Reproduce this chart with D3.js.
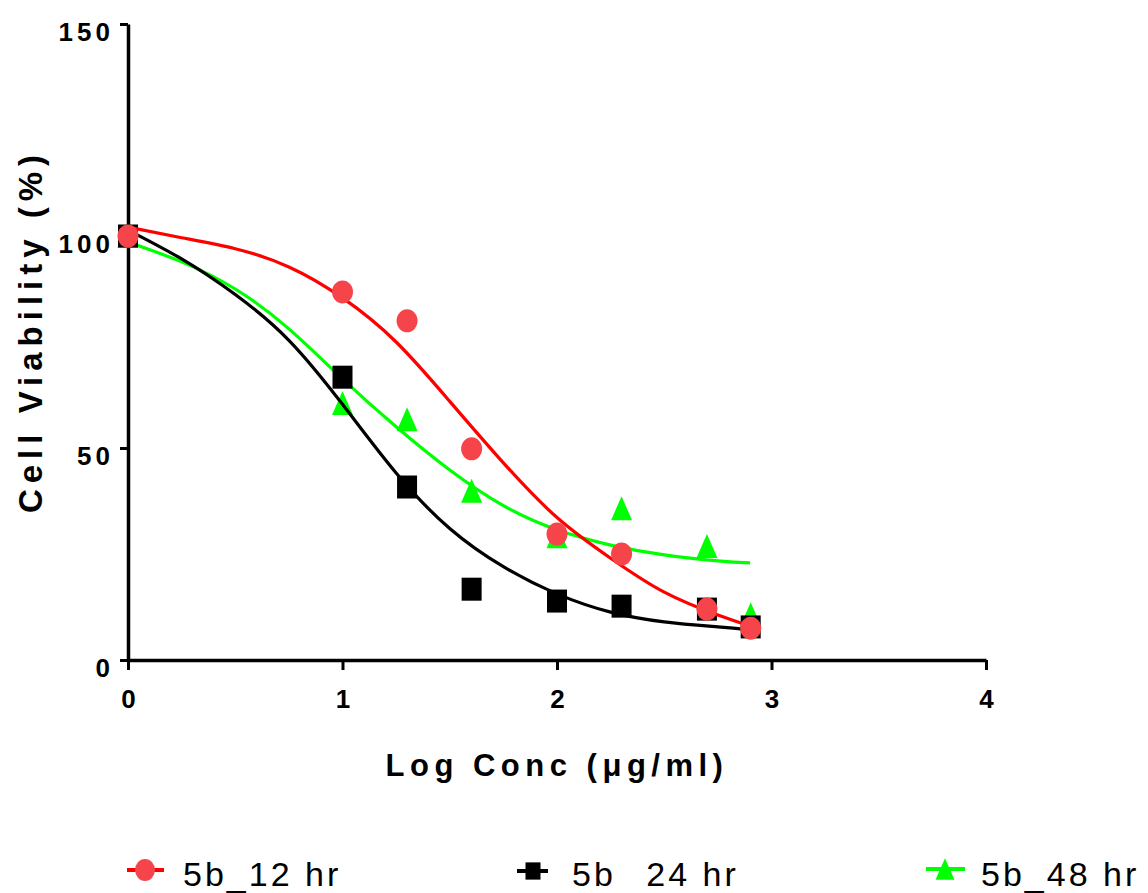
<!DOCTYPE html>
<html>
<head>
<meta charset="utf-8">
<script src="https://cdn.jsdelivr.net/npm/d3@7/dist/d3.min.js"></script>
<style>
  html, body { margin: 0; padding: 0; background: #fff; }
  svg { display: block; }
</style>
</head>
<body>
<svg id="chart" width="1148" height="893"></svg>
<script>
// ---- data ----
const logConc = [0, 1, 1.301, 1.602, 2, 2.301, 2.699, 2.903];
const via12 = [100, 86.8, 80, 49.8, 29.7, 25, 12, 7.5];
const via24 = [100, 66.7, 40.8, 16.7, 13.9, 12.7, 12, 7.8];
const via48 = [100, 60.6, 56.8, 39.9, 29.2, 35.8, 26.9, 10.8];

// fitted curves
const curveX = [0, 0.25, 0.5, 0.75, 1, 1.25, 1.5, 1.75, 2, 2.25, 2.5, 2.75, 2.9];
const fit12 = [102.1, 99.6, 97.0, 92.7, 85.4, 75.0, 61.0, 46.5, 33.6, 24.0, 16.0, 10.6, 8.0];
const fit24 = [101.4, 94.6, 86.2, 75.4, 60.3, 44.1, 31.0, 22.0, 15.6, 11.3, 9.0, 7.8, 7.1];
const fit48 = [98.6, 93.9, 87.5, 78.1, 66.3, 55.0, 44.8, 36.4, 30.7, 27.1, 24.8, 23.4, 22.9];

const xTicks = [0, 1, 2, 3, 4];
const yTicks = [0, 50, 100, 150];
const seriesNames = ["5b_12 hr", "5b 24 hr", "5b_48 hr"];
const xTitle = "Log Conc (\u03bcg/ml)";
const yTitle = "Cell Viability (%)";

// ---- drawing ----
const svg = d3.select("#chart");
const FONT = "'Liberation Sans', Arial, Helvetica, sans-serif";

const x = d3.scaleLinear().domain([0, 4]).range([128, 986]);
const y = d3.scaleLinear().domain([0, 150]).range([660, 24]);

// axes
const yAxis = svg.append("g").attr("transform", "translate(128,0)")
  .call(d3.axisLeft(y).tickValues(yTicks).tickFormat(d3.format("d"))
    .tickSize(8).tickSizeOuter(0).tickPadding(10));
const xAxis = svg.append("g").attr("transform", "translate(0,660)")
  .call(d3.axisBottom(x).tickValues(xTicks).tickFormat(d3.format("d"))
    .tickSize(10).tickSizeOuter(0).tickPadding(20));

[yAxis, xAxis].forEach(a => {
  a.select(".domain").attr("stroke", "#000").attr("stroke-width", 3.5);
  a.selectAll(".tick line").attr("stroke", "#000").attr("stroke-width", 3);
  a.selectAll(".tick text")
    .attr("fill", "#000")
    .style("font-family", FONT)
    .style("font-weight", "bold")
    .style("font-size", "26px")
    .style("letter-spacing", "4px");
});
yAxis.selectAll(".tick text").attr("dy", "0.62em").attr("x", -14);
xAxis.selectAll(".tick text").attr("dy", "0.71em").attr("dx", "2px");

// titles
svg.append("text")
  .attr("x", 557).attr("y", 776)
  .attr("text-anchor", "middle")
  .style("font-family", FONT).style("font-weight", "bold")
  .style("font-size", "31px").style("letter-spacing", "5.5px")
  .text(xTitle);

svg.append("text")
  .attr("transform", "translate(42,331) rotate(-90)")
  .attr("text-anchor", "middle")
  .style("font-family", FONT).style("font-weight", "bold")
  .style("font-size", "33px").style("letter-spacing", "6px")
  .text(yTitle);

// series
const series = [
  { name: seriesNames[2], vals: via48, fit: fit48, line: "#00ff00", fill: "#00ff00", shape: "tri" },
  { name: seriesNames[1], vals: via24, fit: fit24, line: "#000000", fill: "#000000", shape: "sq" },
  { name: seriesNames[0], vals: via12, fit: fit12, line: "#ff0000", fill: "#f5454a", shape: "circ" }
];

const lineGen = d3.line()
  .x(d => x(d[0])).y(d => y(d[1]))
  .curve(d3.curveNatural);

function drawMarker(g, shape, cx, cy, fill, scale) {
  const s = scale || 1;
  if (shape === "circ") {
    g.append("ellipse").attr("cx", cx).attr("cy", cy)
      .attr("rx", 10.5 * s).attr("ry", 11.5 * s).attr("fill", fill);
  } else if (shape === "sq") {
    g.append("rect").attr("x", cx - 10 * s).attr("y", cy - 11.5 * s)
      .attr("width", 20 * s).attr("height", 23 * s).attr("fill", fill);
  } else {
    const w = 10.5 * s, h = 12 * s;
    g.append("path")
      .attr("d", `M${cx},${cy - h}L${cx + w},${cy + h}L${cx - w},${cy + h}Z`)
      .attr("fill", fill);
  }
}

series.forEach(s => {
  const g = svg.append("g");
  g.append("path")
    .datum(curveX.map((cx, i) => [cx, s.fit[i]]))
    .attr("d", lineGen)
    .attr("fill", "none")
    .attr("stroke", s.line)
    .attr("stroke-width", 3.2);
  logConc.forEach((lx, i) => drawMarker(g, s.shape, x(lx), y(s.vals[i]), s.fill));
});

// legend
const legendItems = [
  { name: seriesNames[0], line: "#ff0000", fill: "#f5454a", shape: "circ", x0: 127, x1: 164, mx: 145, my: 870, tx: 183, ty: 886, ms: 0.95, gap: 0 },
  { name: seriesNames[1], line: "#000000", fill: "#000000", shape: "sq", x0: 517, x1: 548, mx: 533, my: 871, tx: 572, ty: 886, ms: 0.75, gap: 18 },
  { name: seriesNames[2], line: "#00ff00", fill: "#00ff00", shape: "tri", x0: 926, x1: 965, mx: 945, my: 869, tx: 981, ty: 886, ms: 0.9, gap: 0 }
];
legendItems.forEach(it => {
  const g = svg.append("g");
  g.append("line").attr("x1", it.x0).attr("x2", it.x1)
    .attr("y1", it.my).attr("y2", it.my)
    .attr("stroke", it.line).attr("stroke-width", 4);
  drawMarker(g, it.shape, it.mx, it.my, it.fill, it.ms);
  const t = g.append("text").attr("x", it.tx).attr("y", it.ty)
    .style("font-family", FONT).style("font-size", "34px")
    .style("letter-spacing", "3px").attr("fill", "#000");
  if (it.gap) {
    const parts = it.name.split(" ");
    t.append("tspan").text(parts[0]);
    t.append("tspan").attr("dx", it.gap).text(" " + parts.slice(1).join(" "));
  } else {
    t.text(it.name);
  }
});
</script>
</body>
</html>
